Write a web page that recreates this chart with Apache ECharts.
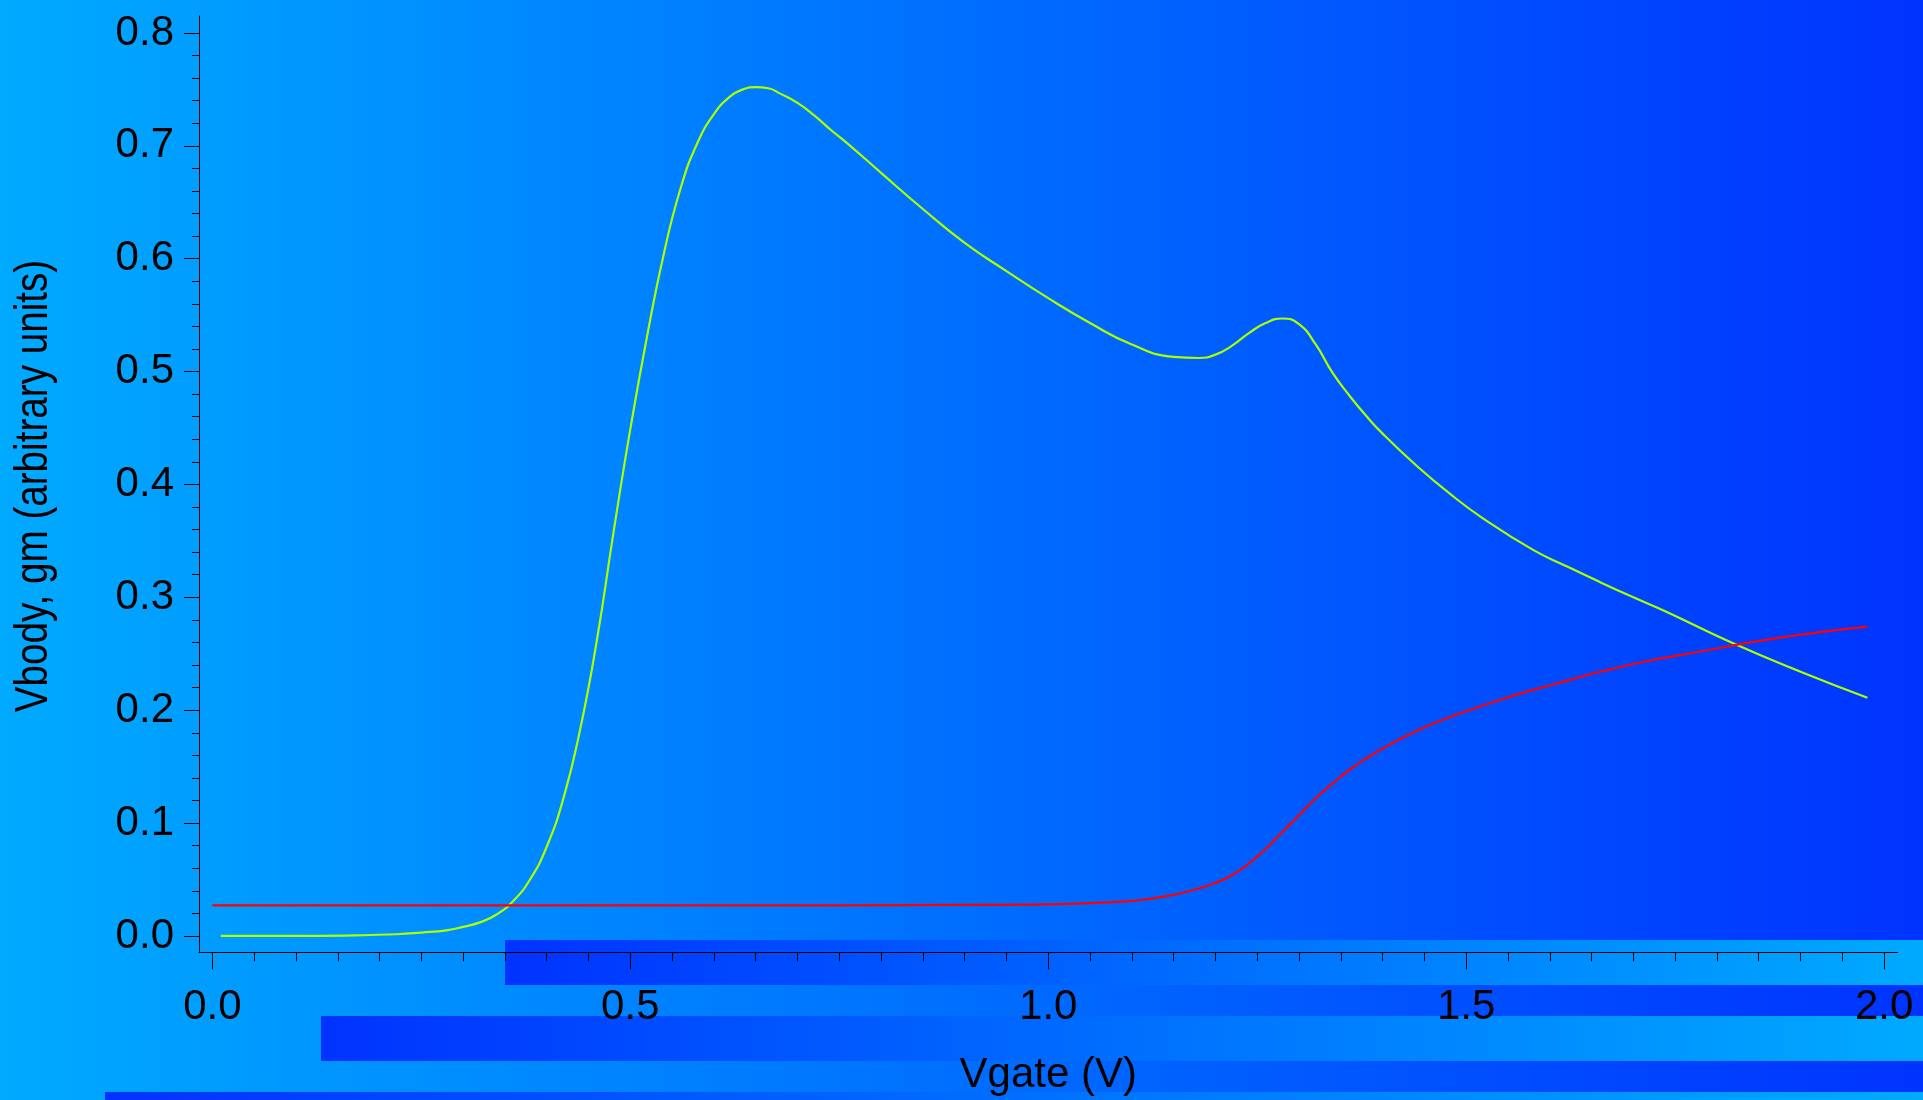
<!DOCTYPE html>
<html>
<head>
<meta charset="utf-8">
<style>
  html, body { margin: 0; padding: 0; }
  #main { width: 1923px; height: 1100px; }
</style>
<script src="https://cdn.jsdelivr.net/npm/echarts/dist/echarts.min.js"></script>
</head>
<body>
<div id="main"></div>
<script>
// gm curve (green)
var gmVgate = [0.01, 0.10, 0.17, 0.22, 0.25, 0.28, 0.30, 0.32, 0.34, 0.36, 0.38, 0.40, 0.42, 0.44, 0.46, 0.48, 0.50, 0.52, 0.54, 0.56, 0.58, 0.60, 0.62, 0.635, 0.65, 0.665, 0.68, 0.70, 0.72, 0.74, 0.76, 0.80, 0.85, 0.90, 0.95, 1.00, 1.05, 1.10, 1.15, 1.18, 1.20, 1.22, 1.24, 1.26, 1.28, 1.30, 1.32, 1.34, 1.36, 1.38, 1.40, 1.44, 1.48, 1.52, 1.58, 1.62, 1.66, 1.70, 1.74, 1.82, 1.90, 1.98];
var gmValues = [0.0, 0.0, 0.0005, 0.0015, 0.003, 0.005, 0.008, 0.012, 0.019, 0.031, 0.050, 0.079, 0.122, 0.183, 0.262, 0.358, 0.449, 0.531, 0.604, 0.662, 0.702, 0.728, 0.744, 0.750, 0.752, 0.751, 0.746, 0.738, 0.727, 0.714, 0.702, 0.676, 0.644, 0.614, 0.589, 0.565, 0.543, 0.524, 0.513, 0.512, 0.515, 0.523, 0.534, 0.543, 0.547, 0.542, 0.524, 0.499, 0.479, 0.461, 0.445, 0.417, 0.392, 0.370, 0.342, 0.3275, 0.3135, 0.300, 0.287, 0.259, 0.234, 0.211];

// Vbody curve (red)
var bodyVgate = [0.0, 0.3, 0.6, 0.9, 1.00, 1.05, 1.10, 1.14, 1.18, 1.20, 1.22, 1.24, 1.26, 1.28, 1.30, 1.32, 1.34, 1.36, 1.38, 1.40, 1.42, 1.46, 1.50, 1.54, 1.58, 1.62, 1.66, 1.72, 1.78, 1.84, 1.90, 1.98];
var bodyValues = [0.027, 0.027, 0.027, 0.0275, 0.028, 0.029, 0.031, 0.035, 0.042, 0.047, 0.054, 0.064, 0.077, 0.092, 0.107, 0.122, 0.135, 0.147, 0.157, 0.166, 0.174, 0.188, 0.199, 0.209, 0.218, 0.226, 0.234, 0.244, 0.252, 0.260, 0.267, 0.274];

// tick labels
var xTicks = [0, 0.5, 1.0, 1.5, 2.0];
var yTicks = [0, 0.1, 0.2, 0.3, 0.4, 0.5, 0.6, 0.7, 0.8];

var xMinor = [];
for (var i = 0; i <= 40; i++) xMinor.push(i * 0.05);
var yMinor = [];
for (var j = 0; j <= 40; j++) yMinor.push(j * 0.02);

function pairs(xs, ys) {
  return xs.map(function (x, k) { return [x, ys[k]]; });
}

function bandGradient() {
  return new echarts.graphic.LinearGradient(0, 0, 1, 0, [
    { offset: 0, color: '#0033ff' },
    { offset: 1, color: '#00aaff' }
  ]);
}

var fontFam = '"Liberation Sans", Arial, sans-serif';
var xRange = { min: -0.016, max: 2.016 };
var yRange = { min: -0.0145, max: 0.815 };

var myChart = echarts.init(document.getElementById('main'));
myChart.setOption({
  animation: false,
  grid: { left: 199, right: 25.5, top: 16, bottom: 147.7, outerBoundsMode: 'none' },
  graphic: [
    // background
    { type: 'rect', z: -20, silent: true, shape: { x: 0, y: 0, width: 1923, height: 1100 },
      style: { fill: new echarts.graphic.LinearGradient(0, 0, 1, 0, [
        { offset: 0, color: '#00aaff' }, { offset: 1, color: '#0033ff' }]) } },
    { type: 'rect', z: -10, silent: true, shape: { x: 505, y: 940, width: 1418, height: 45 }, style: { fill: bandGradient() } },
    { type: 'rect', z: -10, silent: true, shape: { x: 321, y: 1016, width: 1602, height: 45 }, style: { fill: bandGradient() } },
    { type: 'rect', z: -10, silent: true, shape: { x: 105, y: 1092, width: 1818, height: 8 }, style: { fill: bandGradient() } },
    // y axis name
    { type: 'text', x: 34, y: 486, rotation: Math.PI / 2, scaleX: 0.84, silent: true,
      style: { text: 'Vbody, gm (arbitrary units)', font: '46px ' + fontFam, fill: '#000',
               align: 'center', verticalAlign: 'middle' } }
  ],
  xAxis: [{
    type: 'value', min: xRange.min, max: xRange.max, position: 'bottom',
    name: 'Vgate (V)', nameLocation: 'middle', nameGap: 102,
    nameTextStyle: { fontSize: 42, fontFamily: fontFam, color: '#000' },
    axisLine: { onZero: false, lineStyle: { color: '#000', width: 1 } },
    axisTick: { customValues: xTicks, length: 17, lineStyle: { color: '#000' } },
    axisLabel: { customValues: xTicks, margin: 34, fontSize: 42, fontFamily: fontFam, color: '#000',
                 formatter: function (v) { return v.toFixed(1); } },
    splitLine: { show: false }
  }, {
    type: 'value', min: xRange.min, max: xRange.max, position: 'bottom',
    axisLine: { show: false, onZero: false },
    axisTick: { customValues: xMinor, length: 9, lineStyle: { color: '#000' } },
    axisLabel: { show: false },
    splitLine: { show: false }
  }],
  yAxis: [{
    type: 'value', min: yRange.min, max: yRange.max, position: 'left',
    axisLine: { show: true, onZero: false, lineStyle: { color: '#000', width: 1 } },
    axisTick: { show: true, customValues: yTicks, length: 15, lineStyle: { color: '#000' } },
    axisLabel: { customValues: yTicks, margin: 25, fontSize: 42, fontFamily: fontFam, color: '#000',
                 padding: [0, 0, 7, 0],
                 formatter: function (v) { return v.toFixed(1); } },
    splitLine: { show: false }
  }, {
    type: 'value', min: yRange.min, max: yRange.max, position: 'left',
    axisLine: { show: false, onZero: false },
    axisTick: { show: true, customValues: yMinor, length: 7, lineStyle: { color: '#000' } },
    axisLabel: { show: false },
    splitLine: { show: false }
  }],
  series: [{
    name: 'gm',
    type: 'line',
    data: pairs(gmVgate, gmValues),
    smooth: 0.5,
    showSymbol: false,
    lineStyle: { color: '#aaff00', width: 2.2 }
  }, {
    name: 'Vbody',
    type: 'line',
    data: pairs(bodyVgate, bodyValues),
    smooth: 0.5,
    showSymbol: false,
    lineStyle: { color: '#ff0000', width: 2.2 }
  }]
});
</script>
</body>
</html>
